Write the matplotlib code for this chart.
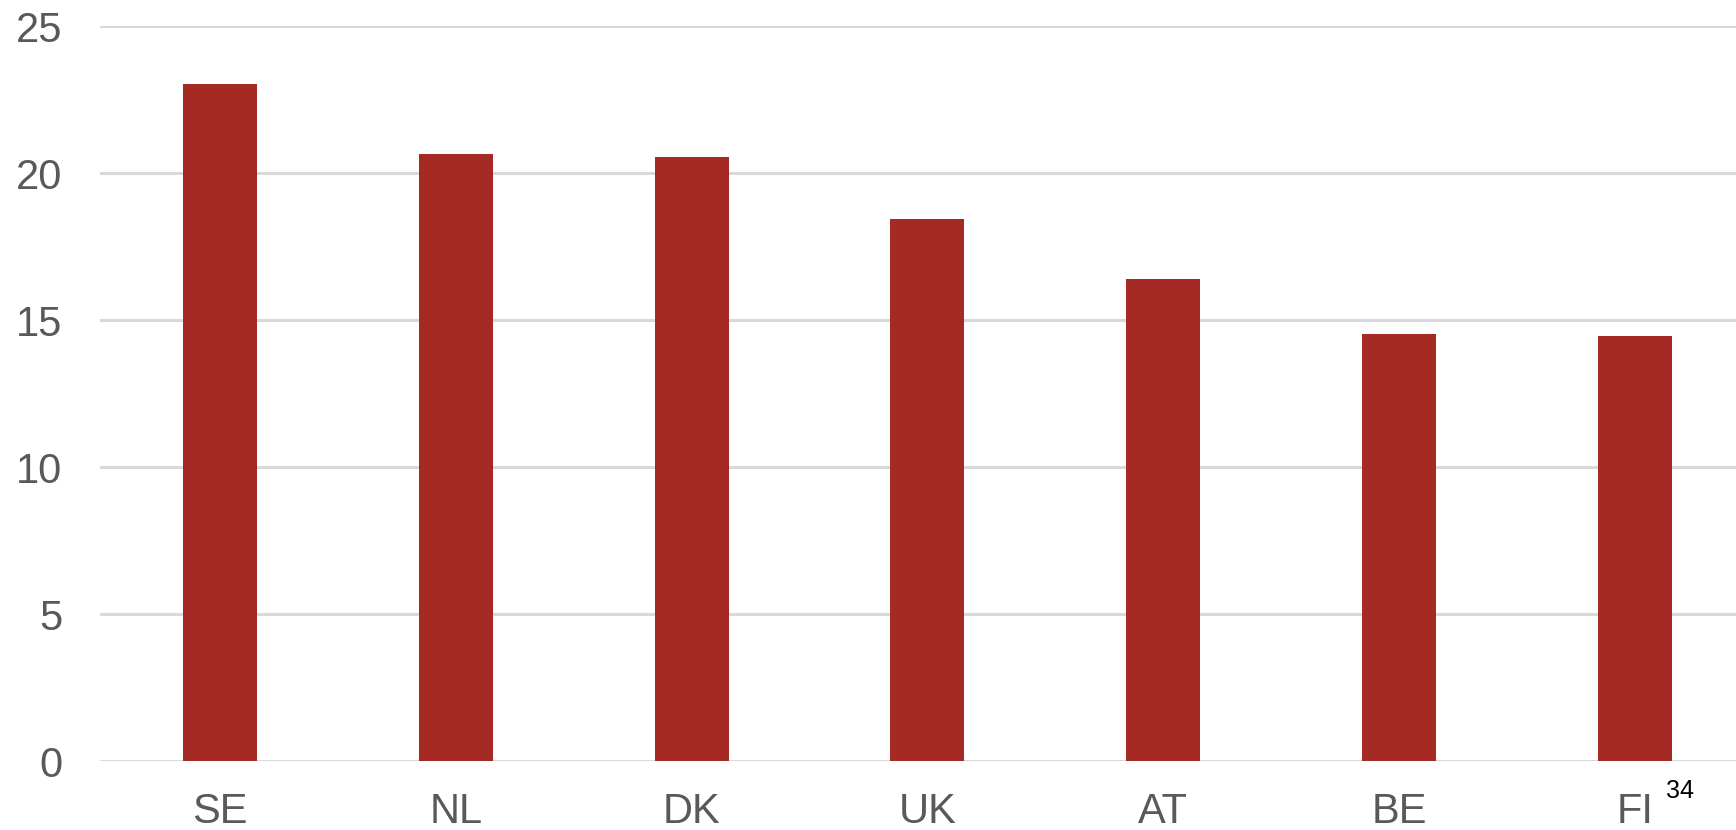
import matplotlib
matplotlib.use("Agg")
import matplotlib.pyplot as plt

countries = ["SE", "NL", "DK", "UK", "AT", "BE", "FI"]
values = [23.05, 20.65, 20.55, 18.45, 16.4, 14.55, 14.45]
y_ticks = [0, 5, 10, 15, 20, 25]
page_number = "34"

BAR_COLOR = "#A52A23"
GRID_COLOR = "#D9D9D9"
TEXT_COLOR = "#595959"

plt.rcParams["font.family"] = ["Liberation Sans", "DejaVu Sans"]

fig = plt.figure(figsize=(17.36, 8.3), dpi=100)
ax = fig.add_axes([100 / 1736, 1 - 761 / 830, 1 - 100 / 1736, (761 - 26.5) / 830])

x = list(range(len(countries)))
ax.bar(x, values, width=0.314, color=BAR_COLOR, zorder=3)

ax.set_ylim(0, 25)
ax.set_xlim(-0.51, 6.43)
ax.set_yticks(y_ticks)
ax.set_xticks(x)
ax.set_xticklabels(countries)
ax.grid(axis="y", color=GRID_COLOR, linewidth=2.2, zorder=0)
ax.set_axisbelow(True)
for s in ax.spines.values():
    s.set_visible(False)
ax.tick_params(axis="both", length=0, labelsize=30, labelcolor=TEXT_COLOR)
ax.tick_params(axis="y", pad=27)
ax.tick_params(axis="x", pad=22)

fig.text(1680 / 1736, 1 - 791 / 830, page_number, ha="center", va="center",
         fontsize=18, color="black")

fig.savefig("out.png", dpi=100)
